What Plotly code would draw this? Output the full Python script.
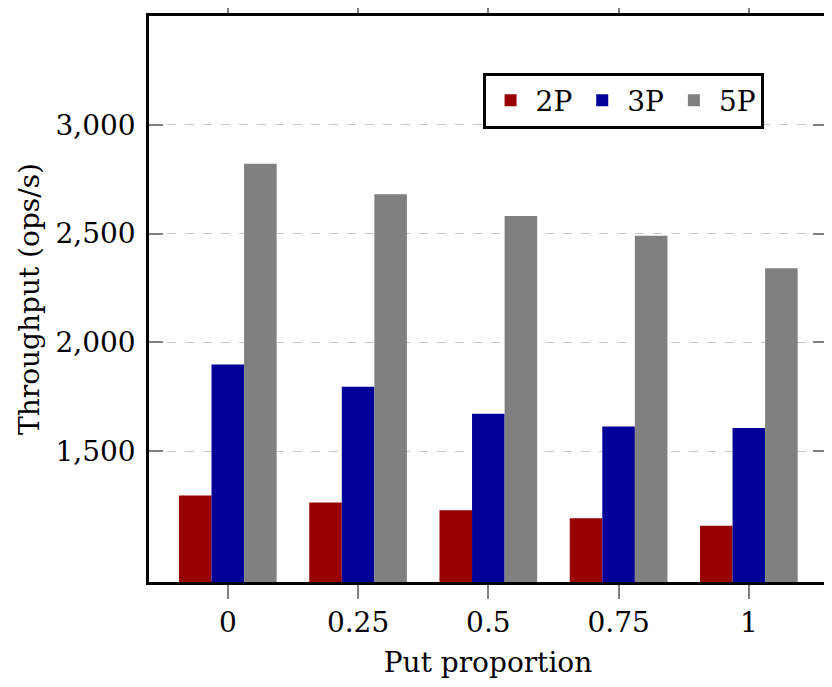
import plotly.graph_objects as go

categories = ["0", "0.25", "0.5", "0.75", "1"]
series_names = ["2P", "3P", "5P"]
vals_2p = [1296, 1264, 1228, 1191, 1157]
vals_3p = [1898, 1796, 1672, 1613, 1606]
vals_5p = [2821, 2681, 2580, 2490, 2340]
colors = ["#990000", "#000099", "#808080"]
y_ticks = [1500, 2000, 2500, 3000]
y_tick_text = ["1,500", "2,000", "2,500", "3,000"]

FONT = "DejaVu Serif"
FS = 28

x_idx = list(range(len(categories)))
fig = go.Figure()
for name, vals, col in zip(series_names, [vals_2p, vals_3p, vals_5p], colors):
    fig.add_trace(go.Bar(
        x=x_idx, y=vals, name=name,
        marker=dict(color=col, line=dict(width=0)),
    ))

fig.update_layout(
    width=824, height=671,
    margin=dict(l=141, r=5, t=8, b=97, autoexpand=False),
    paper_bgcolor="white", plot_bgcolor="white",
    barmode="group", bargap=0.25, bargroupgap=0,
    font=dict(family=FONT, size=FS, color="black"),
    showlegend=True,
    legend=dict(
        orientation="h", x=0.492, y=0.9, xanchor="left", yanchor="top",
        bgcolor="white", bordercolor="black", borderwidth=3,
        font=dict(family=FONT, size=FS),
        itemwidth=40, tracegroupgap=0,
    ),
)
fig.update_xaxes(
    range=[-0.605, 4.6],
    tickmode="array", tickvals=x_idx, ticktext=categories,
    ticks="outside", ticklen=14, tickwidth=2, tickcolor="#808080",
    showline=True, linecolor="black", linewidth=2.5, mirror="ticks",
    showgrid=False, zeroline=False, automargin=False,
    layer="below traces",
    title=dict(text="Put proportion", standoff=15, font=dict(size=FS)),
    tickfont=dict(size=FS),
)
fig.update_yaxes(
    range=[898, 3500],
    tickmode="array", tickvals=y_ticks, ticktext=y_tick_text,
    ticks="inside", ticklen=14, tickwidth=2, tickcolor="#808080",
    showline=True, linecolor="black", linewidth=2.5, mirror="ticks",
    showgrid=True, gridcolor="#c8c8c8", gridwidth=1.3, griddash="dash",
    zeroline=False, automargin=False,
    layer="below traces",
    ticklabelstandoff=5,
    title=dict(text="Throughput (ops/s)", standoff=8, font=dict(size=FS)),
    tickfont=dict(size=FS),
)

fig.write_html("out.html")
